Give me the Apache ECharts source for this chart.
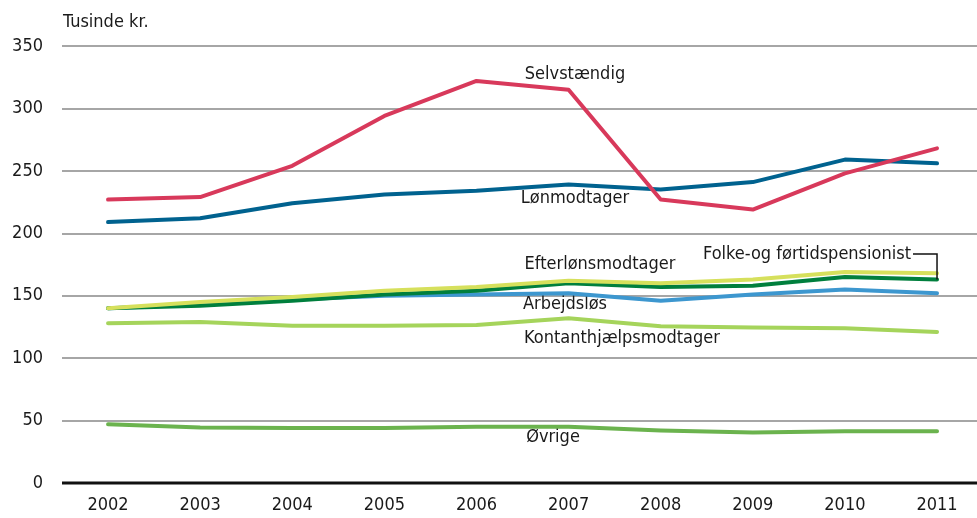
<!DOCTYPE html>
<html>
<head>
<meta charset="utf-8">
<script src="https://cdn.jsdelivr.net/npm/echarts@6/dist/echarts.min.js"></script>
<style>
  html, body { margin: 0; padding: 0; background: #fff; }
  #chart { width: 977px; height: 518px; }
</style>
</head>
<body>
<div id="chart"></div>
<script>
var years = [2002, 2003, 2004, 2005, 2006, 2007, 2008, 2009, 2010, 2011];

var selvstaendig = [227, 229, 254, 294, 322, 315, 227, 219, 248, 268];
var loenmodtager = [209, 212, 224, 231, 234, 239, 235, 241, 259, 256];
var folkepension = [140, 145, 149, 154, 157, 162, 160, 163, 169, 168];
var efterloen = [140, 142, 146, 151, 154, 160, 157, 158, 165, 163];
var arbejdsloes = [140, 143, 147, 150, 151, 152, 146, 151, 155, 152];
var kontant = [128, 129, 126, 126, 126.5, 132, 125.5, 124.5, 124, 121];
var oevrige = [47, 44.5, 44, 44, 45, 45, 42, 40.5, 41.5, 41.5];

var font = "'Liberation Sans Narrow', 'DejaVu Sans Condensed', 'Liberation Sans', sans-serif";

var myChart = echarts.init(document.getElementById("chart"));

function line(name, data, color) {
  return {
    name: name,
    type: "line",
    data: years.map(function (y, i) { return [y, data[i]]; }),
    symbol: "none",
    lineStyle: { width: 4, color: color, cap: "round", join: "round" },
    itemStyle: { color: color },
  };
}

var option = {
  animation: false,
  grid: { left: 62, top: 46, right: 0, height: 437 },
  xAxis: {
    type: "value",
    min: 2001.5,
    max: 2011.434,
    splitLine: { show: false },
    axisLine: { show: false },
    axisTick: { show: false },
    axisLabel: {
      customValues: years,
      color: "#1a1a1a", fontSize: 18, fontFamily: font, margin: 13,
      formatter: function (v) { return String(v); },
    },
  },
  yAxis: {
    type: "value",
    min: 0,
    max: 350,
    interval: 50,
    axisLine: { show: false },
    axisTick: { show: false },
    axisLabel: { color: "#1a1a1a", fontSize: 18, fontFamily: font, margin: 19 },
    splitLine: { lineStyle: { color: "#a6a6a6", width: 2 } },
  },
  series: [
    line("Øvrige", oevrige, "#6bb34e"),
    line("Kontanthjælpsmodtager", kontant, "#a5d45b"),
    line("Arbejdsløs", arbejdsloes, "#3d97cf"),
    line("Efterlønsmodtager", efterloen, "#007f3d"),
    line("Folke-og førtidspensionist", folkepension, "#d6e05c"),
    line("Lønmodtager", loenmodtager, "#00628f"),
    line("Selvstændig", selvstaendig, "#d8395b"),
  ],
};
myChart.setOption(option);

var y0 = myChart.convertToPixel({ yAxisIndex: 0 }, 0);
// leader line runs down to the end of the pensioner/efterløn pair
var endPt = myChart.convertToPixel({ seriesIndex: 3 }, [years[9], efterloen[9]]);

function txt(text, x, y, align) {
  return {
    type: "text",
    x: x,
    y: y,
    style: {
      text: text,
      fill: "#1a1a1a",
      font: "18px " + font,
      textAlign: align || "center",
      textVerticalAlign: "middle",
    },
  };
}

myChart.setOption({
  graphic: [
    {
      type: "line",
      shape: { x1: 62, y1: y0, x2: 977, y2: y0 },
      style: { stroke: "#111", lineWidth: 3 },
      z: 10,
    },
    txt("Tusinde kr.", 63, 22, "left"),
    txt("Selvstændig", 575, 74),
    txt("Lønmodtager", 575, 198),
    txt("Efterlønsmodtager", 600, 264),
    txt("Folke-og førtidspensionist", 807, 254),
    txt("Arbejdsløs", 565, 304),
    txt("Kontanthjælpsmodtager", 622, 338),
    txt("Øvrige", 553, 437),
    {
      type: "polyline",
      shape: { points: [[913, 254], [endPt[0], 254], [endPt[0], endPt[1]]] },
      style: { stroke: "#111", lineWidth: 1.5, fill: null },
      z: 10,
    },
  ],
});
</script>
</body>
</html>
